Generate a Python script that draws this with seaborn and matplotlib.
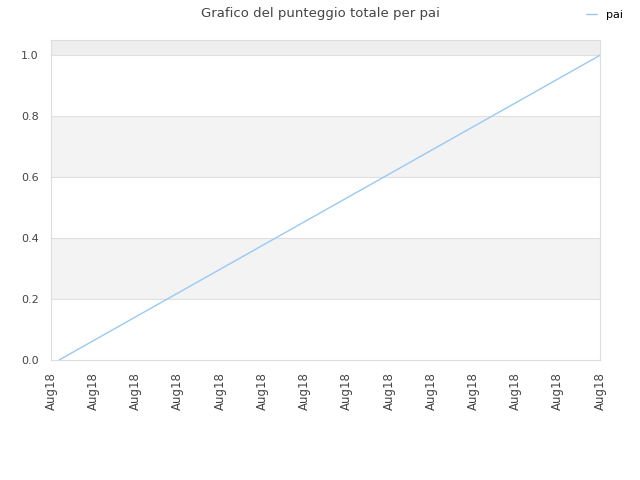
import numpy as np
import pandas as pd
import matplotlib
matplotlib.use('Agg')
import matplotlib.pyplot as plt
import seaborn as sns

# Data
x_pos = [0.19, 13.0]
scores = [0.0, 1.0]
tick_pos = list(range(14))
tick_labels = ['Aug18'] * 14
series_name = 'pai'

sns.set_style('white')
plt.rcParams['font.family'] = ['DejaVu Sans']

fig = plt.figure(figsize=(6.4, 4.8), dpi=100)
ax = fig.add_axes([0.0797, 0.25, 0.858, 0.6667])

# alternating background bands
ax.axhspan(0.2, 0.4, color='#f3f3f3', zorder=0, lw=0)
ax.axhspan(0.6, 0.8, color='#f3f3f3', zorder=0, lw=0)
ax.axhspan(1.0, 1.05, color='#eeeeee', zorder=0, lw=0)
for yv in [0.2, 0.4, 0.6, 0.8, 1.0]:
    ax.axhline(yv, color='#e0e0e0', lw=0.8, zorder=1)

df = pd.DataFrame({'x': x_pos, 'score': scores})
sns.lineplot(data=df, x='x', y='score', ax=ax, color='#99c9f5', lw=1,
             label=series_name, zorder=3)

ax.set_xlim(0, 13)
ax.set_ylim(0, 1.05)
ax.set_yticks([0.0, 0.2, 0.4, 0.6, 0.8, 1.0])
ax.set_yticklabels(['0.0', '0.2', '0.4', '0.6', '0.8', '1.0'])
ax.set_xticks(tick_pos)
ax.set_xticklabels(tick_labels, rotation=90)
ax.tick_params(axis='y', labelsize=8, colors='#444444', length=0, pad=9)
ax.tick_params(axis='x', labelsize=8.5, colors='#444444', length=0, pad=8.5)
ax.set_xlabel('')
ax.set_ylabel('')
for s in ax.spines.values():
    s.set_color('#dddddd')
    s.set_linewidth(0.8)

fig.suptitle('Grafico del punteggio totale per pai', x=0.5, y=0.985,
             fontsize=9.5, color='#444444')
leg = ax.legend(loc='upper right', bbox_to_anchor=(0.985, 0.995),
                bbox_transform=fig.transFigure, frameon=False, fontsize=8,
                handlelength=1.0, handletextpad=0.8, borderaxespad=0.3)
for t in leg.get_texts():
    t.set_color('black')

fig.savefig('out.png', dpi=100)
